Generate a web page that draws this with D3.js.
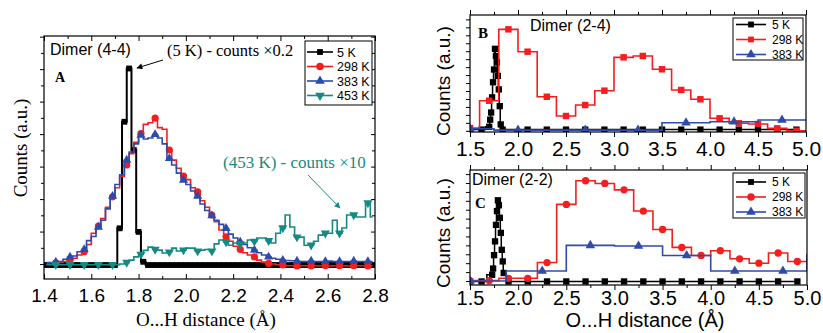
<!DOCTYPE html>
<html>
<head>
<meta charset="utf-8">
<script src="https://cdn.jsdelivr.net/npm/d3@7"></script>
<style>
  body { margin: 0; background: #fff; }
  svg { display: block; }
</style>
</head>
<body>
<svg id="chart" width="823" height="333"></svg>
<script>
// ---------------- data ----------------
// Panel A, Dimer (4-4): histograms on 0.02 Å bins, centres 1.41 ... 2.79
const binStartA = 1.41, binWidthA = 0.02, binCountA = 70;
const red298A = [
  0.00, 0.00, 0.04, 0.05, 0.08, 0.12, 0.18, 0.28, 0.38, 0.60,
  0.95, 1.17, 1.40, 1.75, 2.07, 2.35, 2.70, 3.05, 3.40, 3.75,
  4.02, 4.30, 4.35, 4.49, 4.20, 4.15, 3.51, 3.20, 2.95, 2.71,
  2.60, 2.35, 2.22, 1.95, 1.75, 1.51, 1.30, 1.05, 0.84, 0.70,
  0.55, 0.45, 0.35, 0.28, 0.22, 0.12, 0.06, 0.02, 0.00, -0.02,
  -0.03, -0.05, -0.05, -0.06, -0.05, -0.05, -0.06, -0.05, -0.05, -0.05,
  -0.06, -0.05, -0.05, -0.05, -0.06, -0.05, -0.05, -0.05, -0.06, -0.05
];
const blue383A = [
  0.05, 0.05, 0.06, 0.08, 0.15, 0.22, 0.25, 0.38, 0.45, 0.72,
  0.85, 1.14, 1.35, 1.70, 2.09, 2.45, 2.75, 3.20, 3.45, 3.70,
  3.97, 3.85, 3.88, 3.99, 3.88, 3.70, 3.25, 3.05, 2.80, 2.58,
  2.45, 2.25, 2.09, 1.85, 1.65, 1.49, 1.35, 1.22, 1.10, 0.92,
  0.80, 0.68, 0.60, 0.50, 0.43, 0.35, 0.28, 0.22, 0.18, 0.15,
  0.12, 0.11, 0.10, 0.09, 0.08, 0.08, 0.09, 0.08, 0.08, 0.08,
  0.09, 0.08, 0.08, 0.08, 0.08, 0.09, 0.08, 0.08, 0.08, 0.08
];
const teal453A = [
  -0.02, -0.02, -0.02, -0.02, -0.02, -0.02, -0.02, -0.02, -0.02, -0.02,
  -0.02, -0.02, -0.02, -0.02, -0.02, -0.02, 0.00, 0.05, 0.12, 0.22,
  0.30, 0.42, 0.52, 0.45, 0.43, 0.34, 0.37, 0.49, 0.40, 0.43,
  0.49, 0.49, 0.40, 0.43, 0.45, 0.40, 0.62, 0.74, 0.68, 0.58,
  0.65, 0.62, 0.65, 0.74, 0.70, 0.80, 0.80, 0.72, 0.65, 0.95,
  1.11, 1.51, 1.14, 0.83, 0.83, 0.58, 0.58, 0.70, 0.89, 0.95,
  0.95, 1.35, 0.95, 1.11, 1.51, 1.51, 1.45, 1.45, 1.88, 1.45
];
// 5 K on 0.02 Å bins, centres 1.40 ... 2.80
const binStartA5 = 1.40, binCountA5 = 71;
const black5A = [
  -0.03, -0.03, -0.03, -0.03, -0.03, -0.03, -0.03, -0.03, -0.03, -0.03,
  -0.03, -0.03, -0.03, -0.03, -0.03, -0.03, 1.10, 4.38, 6.02, 3.51,
  0.99, 0.07, -0.03, -0.03, -0.03, -0.03, -0.03, -0.03, -0.03, -0.03,
  -0.03, -0.03, -0.03, -0.03, -0.03, -0.03, -0.03, -0.03, -0.03, -0.03,
  -0.03, -0.03, -0.03, -0.03, -0.03, -0.03, -0.03, -0.03, -0.03, -0.03,
  -0.03, -0.03, -0.03, -0.03, -0.03, -0.03, -0.03, -0.03, -0.03, -0.03,
  -0.03, -0.03, -0.03, -0.03, -0.03, -0.03, -0.03, -0.03, -0.03, -0.03,
  -0.03
];

// Panel B, Dimer (2-4)
const xB298 = [1.5, 1.7, 1.9, 2.1, 2.3, 2.5, 2.7, 2.9, 3.1, 3.3, 3.5, 3.7, 3.9, 4.1, 4.3, 4.5, 4.7, 4.9, 5.1];
const red298B = [0.35, 3.78, 12.75, 9.94, 4.28, 1.86, 3.24, 5.04, 9.23, 9.40, 7.73, 5.13, 3.96, 1.57, 0.94, 0.85, 0.31, 0.00, 0.00];
const xB383 = [1.5, 2.0, 2.7, 3.25, 3.75, 4.25, 4.75, 5.25];
const blue383B = [0.25, 0.08, 0.08, 0.08, 1.02, 1.14, 1.36, 1.36];
const xB5 = [1.5, 1.62, 1.70, 1.71, 1.72, 1.73, 1.74, 1.75, 1.76, 1.77, 1.78, 1.79, 1.80, 1.81, 1.82, 1.84,
             2.1, 2.3, 2.5, 2.7, 2.9, 3.1, 3.3, 3.5, 3.7, 3.9, 4.1, 4.3, 4.5, 4.7, 4.9];
const black5B = [0.15, 0.15, 0.5, 1.4, 2.3, 4.2, 6.1, 7.7, 10.3, 9.4, 8.6, 6.9, 5.2, 3.1, 0.8, 0.15,
                 0.15, 0.15, 0.15, 0.15, 0.15, 0.15, 0.15, 0.15, 0.15, 0.15, 0.15, 0.15, 0.15, 0.15, 0.15];

// Panel C, Dimer (2-2)
const xC298 = [1.5, 1.7, 1.9, 2.1, 2.3, 2.5, 2.7, 2.9, 3.1, 3.3, 3.5, 3.7, 3.9, 4.1, 4.3, 4.5, 4.7, 4.9, 5.1];
const red298C = [0.05, 0.05, 0.30, 0.30, 2.07, 8.60, 11.25, 10.95, 10.23, 7.85, 5.78, 3.77, 2.87, 3.40, 2.49, 2.00, 3.14, 2.19, 2.94];
const xC383 = [1.5, 2.25, 2.75, 3.25, 3.75, 4.25, 4.75, 5.25];
const blue383C = [0.00, 1.13, 4.00, 3.93, 2.87, 1.13, 1.13, 2.87];
const xC5 = [1.5, 1.62, 1.73, 1.74, 1.75, 1.76, 1.77, 1.78, 1.79, 1.80, 1.81, 1.82, 1.83, 1.84, 1.85, 1.9,
             2.1, 2.3, 2.5, 2.7, 2.9, 3.1, 3.3, 3.5, 3.7, 3.9, 4.1, 4.3, 4.5, 4.7, 4.9];
const black5C = [-0.05, -0.05, 0.7, 1.4, 2.9, 4.45, 6.3, 7.85, 9.06, 8.5, 7.1, 5.4, 3.5, 2.2, 0.9, -0.05,
                 -0.05, -0.05, -0.05, -0.05, -0.05, -0.05, -0.05, -0.05, -0.05, -0.05, -0.05, -0.05, -0.05, -0.05, -0.05];

// tick labels
const tickLabelsA = ["1.4", "1.6", "1.8", "2.0", "2.2", "2.4", "2.6", "2.8"];
const tickLabelsBC = ["1.5", "2.0", "2.5", "3.0", "3.5", "4.0", "4.5", "5.0"];
const legendA = ["5 K", "298 K", "383 K", "453 K"];
const legendBC = ["5 K", "298 K", "383 K"];

// ---------------- styles ----------------
const SANS = "'Liberation Sans', Arial, sans-serif";
const SERIF = "'Liberation Serif', 'Times New Roman', serif";
const C_BLACK = "#000000", C_RED = "#f41e1e", C_BLUE = "#2f4aad", C_TEAL = "#168a82";

const svg = d3.select("#chart");

const SYM = {
  square: d3.symbolSquare,
  circle: d3.symbolCircle,
  up: d3.symbolTriangle,
  down: d3.symbolTriangle
};

function marker(g, kind, size, color, x, y) {
  const p = g.append("path")
    .attr("d", d3.symbol(SYM[kind], size)())
    .attr("fill", color)
    .attr("transform", `translate(${x},${y})` + (kind === "down" ? " rotate(180)" : ""));
  return p;
}

function series(g, X, Y, xs, ys, color, lw, kind, size, showMarker) {
  const pts = xs.map((x, i) => [x, ys[i]]);
  const line = d3.line().curve(d3.curveStep).x(d => X(d[0])).y(d => Y(d[1]));
  g.append("path").datum(pts).attr("d", line)
    .attr("fill", "none").attr("stroke", color).attr("stroke-width", lw)
    .attr("stroke-linejoin", "miter");
  pts.forEach((d, i) => {
    if (showMarker(i)) marker(g, kind, size, color, X(d[0]), Y(d[1]));
  });
}

function frame(g, X, Y, clipId) {
  const [x0, x1] = X.range(), [y0, y1] = Y.range();
  svg.append("clipPath").attr("id", clipId).append("rect")
    .attr("x", x0).attr("y", y1).attr("width", x1 - x0).attr("height", y0 - y1);
  return g.append("g").attr("clip-path", `url(#${clipId})`);
}

function border(g, X, Y) {
  const [x0, x1] = X.range(), [y0, y1] = Y.range();
  g.append("rect").attr("x", x0).attr("y", y1).attr("width", x1 - x0).attr("height", y0 - y1)
    .attr("fill", "none").attr("stroke", "#000").attr("stroke-width", 1.2);
}

// tick marks only (no labels); len < 0 points the other way
function xTicks(g, X, y, vals, len, top) {
  const ax = (top ? d3.axisTop(X) : d3.axisBottom(X)).tickValues(vals).tickSize(len).tickFormat(() => "");
  const a = g.append("g").attr("transform", `translate(0,${y})`).call(ax);
  a.select(".domain").remove();
  a.selectAll("line").attr("stroke", "#000").attr("stroke-width", 1);
}
function yTicks(g, Y, x, vals, len, right) {
  const ax = (right ? d3.axisRight(Y) : d3.axisLeft(Y)).tickValues(vals).tickSize(len).tickFormat(() => "");
  const a = g.append("g").attr("transform", `translate(${x},0)`).call(ax);
  a.select(".domain").remove();
  a.selectAll("line").attr("stroke", "#000").attr("stroke-width", 1);
}
function xLabels(g, X, baseline, vals, labels, font, size) {
  const ax = d3.axisBottom(X).tickValues(vals).tickSize(0).tickPadding(0)
    .tickFormat((d, i) => labels[i]);
  const a = g.append("g").attr("transform", `translate(0,${baseline})`).call(ax);
  a.select(".domain").remove();
  a.selectAll("line").remove();
  a.selectAll("text").attr("y", 0).attr("dy", null)
    .attr("font-family", font).attr("font-size", size).attr("fill", "#000");
}

function text(g, str, x, y, opts) {
  const t = g.append("text").attr("x", x).attr("y", y).text(str)
    .attr("font-family", opts.font || SANS).attr("font-size", opts.size || 12)
    .attr("fill", opts.color || "#000");
  if (opts.anchor) t.attr("text-anchor", opts.anchor);
  if (opts.weight) t.attr("font-weight", opts.weight);
  if (opts.rotate) t.attr("transform", `rotate(${opts.rotate},${x},${y})`);
  return t;
}

function legend(g, box, rows, items, lx0, lx1, tx, fontSize) {
  g.append("rect").attr("x", box[0]).attr("y", box[1]).attr("width", box[2]).attr("height", box[3])
    .attr("fill", "#fff").attr("stroke", "#000").attr("stroke-width", 1);
  items.forEach((it, i) => {
    const y = rows[i];
    g.append("line").attr("x1", lx0).attr("x2", lx1).attr("y1", y).attr("y2", y)
      .attr("stroke", it.color).attr("stroke-width", it.lw || 1.6);
    marker(g, it.kind, it.size, it.color, (lx0 + lx1) / 2, y);
    text(g, it.label, tx, y + fontSize * 0.36, { size: fontSize, font: SANS });
  });
}

// arrow heads
const defs = svg.append("defs");
[["headBlack", C_BLACK], ["headTeal", C_TEAL]].forEach(([id, c]) => {
  defs.append("marker").attr("id", id).attr("viewBox", "0 0 10 10")
    .attr("refX", 9).attr("refY", 5).attr("markerWidth", 7).attr("markerHeight", 6)
    .attr("orient", "auto").attr("markerUnits", "userSpaceOnUse")
    .append("path").attr("d", "M0,0 L10,5 L0,10 Z").attr("fill", c);
});

// ======================= Panel A =======================
{
  const g = svg.append("g");
  const X = d3.scaleLinear().domain([1.4, 2.8]).range([44, 375]);
  const Y = d3.scaleLinear().domain([-0.46, 7.02]).range([279, 36]);
  const plot = frame(g, X, Y, "clipA");

  const xs = d3.range(binCountA).map(k => binStartA + binWidthA * k);
  const xs5 = d3.range(binCountA5).map(k => binStartA5 + binWidthA * k);
  const every3 = i => i % 3 === 2;

  series(plot, X, Y, xs5, black5A, C_BLACK, 2, "square", 34, () => true);
  series(plot, X, Y, xs, red298A, C_RED, 1.6, "circle", 40, every3);
  series(plot, X, Y, xs, blue383A, C_BLUE, 1.6, "up", 36, every3);
  series(plot, X, Y, xs, teal453A, C_TEAL, 1.6, "down", 36, every3);

  border(g, X, Y);
  const major = d3.range(0, 8).map(i => +(1.4 + 0.2 * i).toFixed(1));
  const minor = d3.range(0, 7).map(i => +(1.5 + 0.2 * i).toFixed(1));
  xTicks(g, X, 279, major, -5, false);
  xTicks(g, X, 279, minor, -3, false);
  xTicks(g, X, 36, major, -5, true);
  xTicks(g, X, 36, minor, -3, true);
  const yMajor = d3.range(0, 8), yMinor = d3.range(0, 7).map(i => i + 0.5);
  yTicks(g, Y, 44, yMajor, 4, false);
  yTicks(g, Y, 44, yMinor, 3, false);
  yTicks(g, Y, 375, yMajor, -4, true);
  yTicks(g, Y, 375, yMinor, -3, true);
  xLabels(g, X, 302, major, tickLabelsA, SANS, 19);

  text(g, "O...H distance (\u00c5)", 206, 326, { font: SERIF, size: 19, anchor: "middle" });
  text(g, "Counts (a.u.)", 27, 148, { font: SERIF, size: 19, anchor: "middle", rotate: -90 });

  text(g, "Dimer (4-4)", 50, 55, { size: 16 });
  text(g, "A", 55, 82, { font: SERIF, size: 14, weight: "bold" });
  text(g, "(5 K) - counts \u00d70.2", 167, 56, { font: SERIF, size: 16.5 });
  g.append("line").attr("x1", 163).attr("y1", 60).attr("x2", 137).attr("y2", 68)
    .attr("stroke", C_BLACK).attr("stroke-width", 1).attr("marker-end", "url(#headBlack)");
  text(g, "(453 K) - counts \u00d710", 223, 168, { font: SERIF, size: 17, color: C_TEAL });
  g.append("line").attr("x1", 308).attr("y1", 175).attr("x2", 340).attr("y2", 208)
    .attr("stroke", C_TEAL).attr("stroke-width", 1).attr("marker-end", "url(#headTeal)");

  legend(g, [305, 41, 67, 64], [52, 66.5, 81, 95.5], [
    { label: legendA[0], color: C_BLACK, kind: "square", size: 34 },
    { label: legendA[1], color: C_RED, kind: "circle", size: 45 },
    { label: legendA[2], color: C_BLUE, kind: "up", size: 40 },
    { label: legendA[3], color: C_TEAL, kind: "down", size: 40 }
  ], 307, 333, 337, 12.5);
}

// ======================= Panel B =======================
{
  const g = svg.append("g");
  const X = d3.scaleLinear().domain([1.5, 5.0]).range([470, 806]);
  const Y = d3.scaleLinear().domain([-0.15, 14.55]).range([132, 15]);
  const plot = frame(g, X, Y, "clipB");
  const all = () => true;

  series(plot, X, Y, xB5, black5B, C_BLACK, 1.5, "square", 40, all);
  series(plot, X, Y, xB298, red298B, C_RED, 1.6, "square", 42, all);
  series(plot, X, Y, xB383, blue383B, C_BLUE, 1.6, "up", 40, all);

  border(g, X, Y);
  const major = d3.range(0, 8).map(i => 1.5 + 0.5 * i);
  const minor = d3.range(0, 7).map(i => 1.75 + 0.5 * i);
  xTicks(g, X, 132, major, 5, false);
  xTicks(g, X, 132, minor, 3, false);
  xTicks(g, X, 15, major, 5, true);
  xTicks(g, X, 15, minor, 3, true);
  yTicks(g, Y, 470, d3.range(0, 15), 4, false);
  xLabels(g, X, 156, major, tickLabelsBC, SANS, 21);

  text(g, "Counts (a.u.)", 450, 81, { size: 19, anchor: "middle", rotate: -90 });
  text(g, "Dimer (2-4)", 530, 31, { size: 16 });
  text(g, "B", 478, 38, { font: SERIF, size: 15, weight: "bold" });

  legend(g, [733, 18, 70, 42], [24.5, 39.5, 54.5], [
    { label: legendBC[0], color: C_BLACK, kind: "square", size: 34 },
    { label: legendBC[1], color: C_RED, kind: "square", size: 34 },
    { label: legendBC[2], color: C_BLUE, kind: "up", size: 40 }
  ], 736, 766, 772, 12);
}

// ======================= Panel C =======================
{
  const g = svg.append("g");
  const X = d3.scaleLinear().domain([1.5, 5.0]).range([470, 807]);
  const Y = d3.scaleLinear().domain([-0.45, 12.46]).range([285, 170]);
  const plot = frame(g, X, Y, "clipC");
  const all = () => true;

  series(plot, X, Y, xC5, black5C, C_BLACK, 1.5, "square", 40, all);
  series(plot, X, Y, xC298, red298C, C_RED, 1.6, "circle", 42, all);
  series(plot, X, Y, xC383, blue383C, C_BLUE, 1.6, "up", 40, all);

  border(g, X, Y);
  const major = d3.range(0, 8).map(i => 1.5 + 0.5 * i);
  const minor = d3.range(0, 7).map(i => 1.75 + 0.5 * i);
  xTicks(g, X, 285, major, 5, false);
  xTicks(g, X, 285, minor, 3, false);
  xTicks(g, X, 170, major, 5, true);
  xTicks(g, X, 170, minor, 3, true);
  yTicks(g, Y, 470, d3.range(0, 13), 4, false);
  xLabels(g, X, 305, major, tickLabelsBC, SANS, 20);

  text(g, "O...H distance (\u00c5)", 645, 327, { size: 20, anchor: "middle" });
  text(g, "Counts (a.u.)", 450, 233, { size: 19, anchor: "middle", rotate: -90 });
  text(g, "Dimer (2-2)", 472, 185, { size: 16 });
  text(g, "C", 475, 208, { font: SERIF, size: 15, weight: "bold" });

  legend(g, [733, 173, 72, 45], [182, 197, 212], [
    { label: legendBC[0], color: C_BLACK, kind: "square", size: 34 },
    { label: legendBC[1], color: C_RED, kind: "circle", size: 45 },
    { label: legendBC[2], color: C_BLUE, kind: "up", size: 40 }
  ], 736, 766, 772, 12);
}
</script>
</body>
</html>
